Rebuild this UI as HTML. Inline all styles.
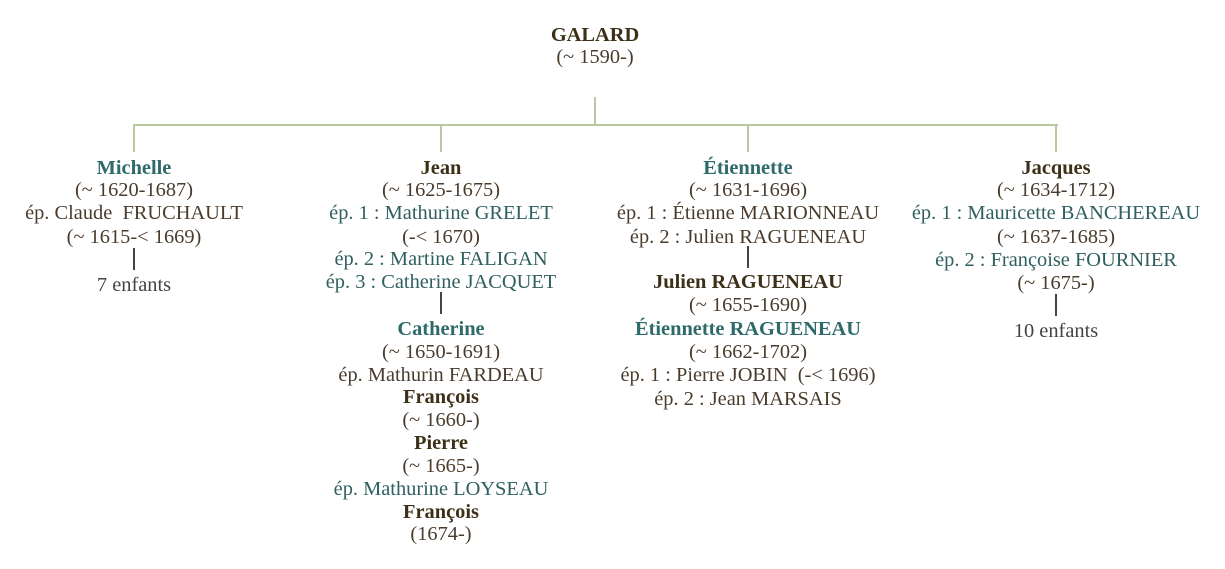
<!DOCTYPE html>
<html><head><meta charset="utf-8"><style>
html,body{margin:0;padding:0;background:#fff;width:1225px;height:569px;overflow:hidden;position:relative}
.l{position:absolute;width:440px;height:24px;line-height:24px;text-align:center;white-space:nowrap;font-family:"Liberation Serif",serif;font-size:20.4px;margin-top:2px}
.b{font-weight:bold;color:#3d3018}
.bt{font-weight:bold;color:#2e6a6a}
.t{color:#2f5f5f}
.d{color:#4a3c2c}
.g{color:#444}
.ln{position:absolute;background:#b8c9a0}
.dk{position:absolute;background:#444;width:2px}
</style></head><body>
<div class="ln" style="left:594px;top:97px;width:2px;height:29px"></div>
<div class="ln" style="left:133px;top:124px;width:925px;height:2px"></div>
<div class="ln" style="left:133px;top:124px;width:2px;height:28px"></div>
<div class="ln" style="left:440px;top:124px;width:2px;height:28px"></div>
<div class="ln" style="left:747px;top:124px;width:2px;height:28px"></div>
<div class="ln" style="left:1055px;top:124px;width:2px;height:28px"></div>
<div class="dk" style="left:133px;top:248px;height:22px"></div>
<div class="dk" style="left:440px;top:292px;height:22px"></div>
<div class="dk" style="left:747px;top:246px;height:22px"></div>
<div class="dk" style="left:1055px;top:294px;height:22px"></div>

<div class="l b" style="left:375px;top:21px">GALARD</div>
<div class="l d" style="left:375px;top:43px">(~ 1590-)</div>

<div class="l bt" style="left:-86px;top:154px">Michelle</div>
<div class="l d" style="left:-86px;top:176px">(~ 1620-1687)</div>
<div class="l d" style="left:-86px;top:199px">ép. Claude&nbsp; FRUCHAULT</div>
<div class="l d" style="left:-86px;top:223px">(~ 1615-&lt; 1669)</div>
<div class="l g" style="left:-86px;top:271px">7 enfants</div>

<div class="l b" style="left:221px;top:154px">Jean</div>
<div class="l d" style="left:221px;top:176px">(~ 1625-1675)</div>
<div class="l t" style="left:221px;top:199px">ép. 1 : Mathurine GRELET</div>
<div class="l d" style="left:221px;top:223px">(-&lt; 1670)</div>
<div class="l t" style="left:221px;top:245px">ép. 2 : Martine FALIGAN</div>
<div class="l t" style="left:221px;top:268px">ép. 3 : Catherine JACQUET</div>
<div class="l bt" style="left:221px;top:315px">Catherine</div>
<div class="l d" style="left:221px;top:338px">(~ 1650-1691)</div>
<div class="l d" style="left:221px;top:361px">ép. Mathurin FARDEAU</div>
<div class="l b" style="left:221px;top:383px">François</div>
<div class="l d" style="left:221px;top:406px">(~ 1660-)</div>
<div class="l b" style="left:221px;top:429px">Pierre</div>
<div class="l d" style="left:221px;top:452px">(~ 1665-)</div>
<div class="l t" style="left:221px;top:475px">ép. Mathurine LOYSEAU</div>
<div class="l b" style="left:221px;top:498px">François</div>
<div class="l d" style="left:221px;top:520px">(1674-)</div>

<div class="l bt" style="left:528px;top:154px">Étiennette</div>
<div class="l d" style="left:528px;top:176px">(~ 1631-1696)</div>
<div class="l d" style="left:528px;top:199px">ép. 1 : Étienne MARIONNEAU</div>
<div class="l d" style="left:528px;top:223px">ép. 2 : Julien RAGUENEAU</div>
<div class="l b" style="left:528px;top:268px">Julien RAGUENEAU</div>
<div class="l d" style="left:528px;top:291px">(~ 1655-1690)</div>
<div class="l bt" style="left:528px;top:315px">Étiennette RAGUENEAU</div>
<div class="l d" style="left:528px;top:338px">(~ 1662-1702)</div>
<div class="l d" style="left:528px;top:361px">ép. 1 : Pierre JOBIN&nbsp; (-&lt; 1696)</div>
<div class="l d" style="left:528px;top:385px">ép. 2 : Jean MARSAIS</div>

<div class="l b" style="left:836px;top:154px">Jacques</div>
<div class="l d" style="left:836px;top:176px">(~ 1634-1712)</div>
<div class="l t" style="left:836px;top:199px">ép. 1 : Mauricette BANCHEREAU</div>
<div class="l d" style="left:836px;top:223px">(~ 1637-1685)</div>
<div class="l t" style="left:836px;top:246px">ép. 2 : Françoise FOURNIER</div>
<div class="l d" style="left:836px;top:269px">(~ 1675-)</div>
<div class="l g" style="left:836px;top:317px">10 enfants</div>
</body></html>
